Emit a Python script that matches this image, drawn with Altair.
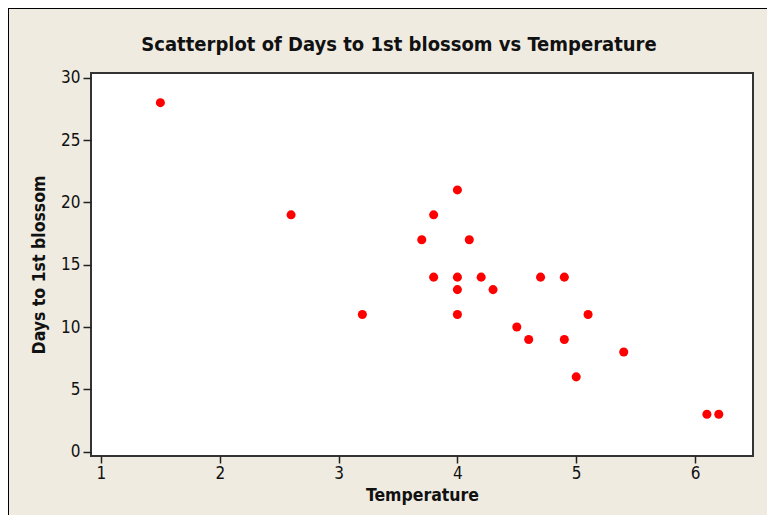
import altair as alt
import pandas as pd

temperature = [1.5, 2.6, 3.2, 3.7, 3.8, 3.8, 4.0, 4.0, 4.0, 4.0, 4.1, 4.2,
               4.3, 4.5, 4.6, 4.7, 4.9, 4.9, 5.0, 5.1, 5.4, 6.1, 6.2]
days = [28, 19, 11, 17, 19, 14, 21, 14, 13, 11, 17, 14,
        13, 10, 9, 14, 14, 9, 6, 11, 8, 3, 3]
x_ticks = [1, 2, 3, 4, 5, 6]
y_ticks = [0, 5, 10, 15, 20, 25, 30]

df = pd.DataFrame({"temp": temperature, "days": days})

FONT = "DejaVu Sans Condensed"
BG = "#EFEBE1"
W, H = 662, 383
PAD = {"left": 83, "top": 65, "right": 14, "bottom": 59}

points = alt.Chart(df).mark_circle(size=82, color="#FF0000", opacity=1).encode(
    x=alt.X(
        "temp:Q",
        scale=alt.Scale(domain=[0.916, 6.488], nice=False, zero=False),
        axis=alt.Axis(
            values=x_ticks, format="d", title="Temperature", grid=False,
            domain=False, tickSize=7, tickColor="#222222", tickWidth=1.5,
            labelPadding=2, titlePadding=5,
        ),
    ),
    y=alt.Y(
        "days:Q",
        scale=alt.Scale(domain=[-0.35, 30.38], nice=False, zero=False),
        axis=alt.Axis(
            values=y_ticks, format="d", title="Days to 1st blossom", grid=False,
            domain=False, tickSize=8, tickColor="#222222", tickWidth=1.5,
            labelPadding=3, titlePadding=12,
        ),
    ),
)

frame_df = pd.DataFrame({"k": [0]})
left_line = alt.Chart(frame_df).mark_rule(color="black", strokeWidth=2).encode(
    x=alt.value(-PAD["left"]), y=alt.value(-PAD["top"]), y2=alt.value(H + PAD["bottom"])
)
top_line = alt.Chart(frame_df).mark_rule(color="black", strokeWidth=2).encode(
    x=alt.value(-PAD["left"]), x2=alt.value(W + PAD["right"]), y=alt.value(-PAD["top"])
)

chart = alt.layer(points, left_line, top_line).properties(
    width=W,
    height=H,
    autosize=alt.AutoSizeParams(type="none"),
    padding=PAD,
    background=BG,
    title=alt.TitleParams(
        "Scatterplot of Days to 1st blossom vs Temperature",
        font=FONT, fontSize=20, fontWeight="bold", color="#111111",
        dx=-23, offset=-48, anchor="middle", frame="group",
    ),
).configure_view(
    fill="white", stroke="#333333", strokeWidth=2
).configure_axis(
    labelFont=FONT, labelFontSize=17, labelColor="#111111",
    titleFont=FONT, titleFontSize=17.5, titleFontWeight="bold", titleColor="#111111",
)

chart.save("out.html", embed_options={"renderer": "svg", "actions": False})
